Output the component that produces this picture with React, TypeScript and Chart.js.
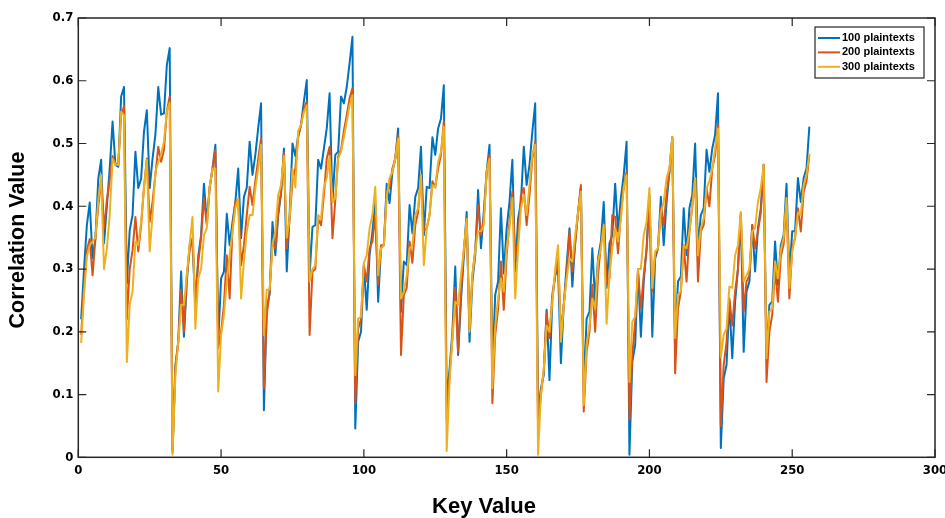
import React, { useEffect, useRef } from 'react';
import { Chart, registerables } from 'chart.js';

Chart.register(...registerables);

// ---- data ----
const BLUE_100 = [
  0.22, 0.30, 0.37, 0.406, 0.317, 0.349, 0.444, 0.474, 0.341, 0.40, 0.46, 0.535, 0.466, 0.463, 0.575, 0.59,
  0.277, 0.362, 0.386, 0.487, 0.429, 0.444, 0.519, 0.553, 0.429, 0.476, 0.514, 0.59, 0.546, 0.548, 0.625, 0.652,
  0.012, 0.147, 0.184, 0.296, 0.192, 0.28, 0.338, 0.34, 0.24, 0.32, 0.354, 0.436, 0.375, 0.43, 0.46, 0.498,
  0.184, 0.285, 0.296, 0.388, 0.338, 0.375, 0.407, 0.46, 0.349, 0.415, 0.43, 0.503, 0.45, 0.482, 0.525, 0.564,
  0.075, 0.24, 0.26, 0.375, 0.322, 0.386, 0.42, 0.492, 0.296, 0.386, 0.50, 0.48, 0.513, 0.53, 0.567, 0.601,
  0.29, 0.367, 0.37, 0.474, 0.46, 0.492, 0.524, 0.58, 0.407, 0.482, 0.487, 0.575, 0.564, 0.59, 0.628, 0.67,
  0.046, 0.184, 0.2, 0.306, 0.235, 0.322, 0.36, 0.407, 0.248, 0.333, 0.338, 0.436, 0.405, 0.455, 0.476, 0.524,
  0.232, 0.312, 0.306, 0.402, 0.357, 0.415, 0.429, 0.495, 0.354, 0.431, 0.429, 0.51, 0.482, 0.524, 0.54, 0.593,
  0.09, 0.14, 0.2, 0.304, 0.163, 0.25, 0.32, 0.391, 0.184, 0.28, 0.322, 0.426, 0.333, 0.391, 0.455, 0.498,
  0.142, 0.259, 0.28, 0.397, 0.293, 0.365, 0.407, 0.474, 0.296, 0.38, 0.407, 0.495, 0.434, 0.466, 0.519, 0.564,
  0.073, 0.11, 0.131, 0.235, 0.123, 0.253, 0.29, 0.30, 0.15, 0.243, 0.306, 0.365, 0.272, 0.344, 0.39, 0.43,
  0.11, 0.221, 0.232, 0.333, 0.248, 0.317, 0.344, 0.407, 0.27, 0.341, 0.354, 0.436, 0.36, 0.413, 0.45, 0.503,
  0.004, 0.152, 0.179, 0.30, 0.192, 0.28, 0.333, 0.418, 0.192, 0.317, 0.333, 0.415, 0.338, 0.407, 0.455, 0.51,
  0.184, 0.28, 0.288, 0.397, 0.322, 0.397, 0.418, 0.50, 0.333, 0.386, 0.397, 0.49, 0.455, 0.492, 0.514, 0.58,
  0.015, 0.126, 0.147, 0.248, 0.158, 0.248, 0.30, 0.386, 0.168, 0.264, 0.28, 0.37, 0.296, 0.365, 0.397, 0.466,
  0.163, 0.243, 0.248, 0.344, 0.275, 0.338, 0.354, 0.436, 0.29, 0.36, 0.36, 0.445, 0.407, 0.445, 0.46, 0.527,
];

const ORANGE_200 = [
  0.195, 0.27, 0.33, 0.348, 0.29, 0.35, 0.40, 0.44, 0.365, 0.41, 0.44, 0.48, 0.468, 0.466, 0.545, 0.559,
  0.22, 0.30, 0.33, 0.383, 0.328, 0.37, 0.43, 0.476, 0.375, 0.407, 0.45, 0.495, 0.471, 0.49, 0.551, 0.575,
  0.008, 0.142, 0.184, 0.267, 0.2, 0.29, 0.33, 0.35, 0.25, 0.31, 0.35, 0.413, 0.37, 0.43, 0.46, 0.49,
  0.174, 0.2, 0.243, 0.322, 0.253, 0.365, 0.407, 0.41, 0.306, 0.338, 0.386, 0.431, 0.402, 0.44, 0.475, 0.508,
  0.11, 0.227, 0.264, 0.344, 0.333, 0.39, 0.423, 0.485, 0.333, 0.38, 0.44, 0.46, 0.51, 0.53, 0.555, 0.567,
  0.195, 0.296, 0.30, 0.38, 0.37, 0.418, 0.476, 0.495, 0.349, 0.41, 0.48, 0.49, 0.52, 0.545, 0.572, 0.588,
  0.086, 0.205, 0.22, 0.306, 0.28, 0.333, 0.344, 0.386, 0.275, 0.338, 0.338, 0.423, 0.43, 0.46, 0.476, 0.513,
  0.163, 0.259, 0.27, 0.344, 0.31, 0.37, 0.391, 0.45, 0.36, 0.365, 0.386, 0.44, 0.43, 0.46, 0.482, 0.535,
  0.06, 0.13, 0.19, 0.27, 0.168, 0.26, 0.33, 0.38, 0.205, 0.29, 0.33, 0.402, 0.354, 0.38, 0.455, 0.482,
  0.086, 0.195, 0.237, 0.312, 0.235, 0.322, 0.375, 0.423, 0.317, 0.344, 0.418, 0.429, 0.37, 0.418, 0.476, 0.503,
  0.05, 0.1, 0.14, 0.23, 0.19, 0.26, 0.29, 0.32, 0.2, 0.243, 0.29, 0.36, 0.296, 0.34, 0.39, 0.434,
  0.073, 0.168, 0.2, 0.275, 0.2, 0.29, 0.34, 0.37, 0.28, 0.285, 0.386, 0.383, 0.325, 0.39, 0.43, 0.455,
  0.06, 0.163, 0.216, 0.296, 0.237, 0.29, 0.33, 0.407, 0.264, 0.322, 0.333, 0.397, 0.37, 0.42, 0.455, 0.51,
  0.134, 0.237, 0.264, 0.338, 0.28, 0.36, 0.40, 0.445, 0.28, 0.36, 0.37, 0.429, 0.40, 0.46, 0.482, 0.53,
  0.05, 0.147, 0.184, 0.253, 0.21, 0.264, 0.30, 0.39, 0.232, 0.28, 0.29, 0.37, 0.333, 0.36, 0.39, 0.466,
  0.12, 0.2, 0.227, 0.30, 0.248, 0.32, 0.34, 0.407, 0.253, 0.333, 0.35, 0.397, 0.36, 0.423, 0.44, 0.482,
];

const YELLOW_300 = [
  0.182, 0.26, 0.32, 0.338, 0.344, 0.35, 0.41, 0.45, 0.30, 0.333, 0.386, 0.476, 0.466, 0.466, 0.551, 0.545,
  0.152, 0.243, 0.264, 0.344, 0.338, 0.375, 0.429, 0.474, 0.328, 0.386, 0.455, 0.471, 0.482, 0.503, 0.551, 0.565,
  0.004, 0.131, 0.184, 0.243, 0.243, 0.29, 0.34, 0.383, 0.205, 0.285, 0.30, 0.354, 0.365, 0.43, 0.46, 0.46,
  0.105, 0.195, 0.227, 0.28, 0.322, 0.36, 0.397, 0.413, 0.253, 0.312, 0.36, 0.386, 0.386, 0.429, 0.46, 0.498,
  0.195, 0.267, 0.267, 0.338, 0.36, 0.418, 0.434, 0.48, 0.35, 0.38, 0.46, 0.43, 0.52, 0.53, 0.55, 0.561,
  0.28, 0.30, 0.306, 0.386, 0.38, 0.43, 0.445, 0.48, 0.407, 0.413, 0.476, 0.487, 0.51, 0.535, 0.561, 0.577,
  0.131, 0.221, 0.224, 0.31, 0.322, 0.365, 0.386, 0.431, 0.29, 0.333, 0.338, 0.415, 0.445, 0.455, 0.476, 0.508,
  0.253, 0.264, 0.29, 0.333, 0.338, 0.386, 0.397, 0.45, 0.306, 0.365, 0.386, 0.434, 0.43, 0.47, 0.487, 0.527,
  0.01, 0.12, 0.19, 0.248, 0.243, 0.29, 0.33, 0.38, 0.2, 0.29, 0.33, 0.36, 0.36, 0.37, 0.455, 0.476,
  0.11, 0.21, 0.253, 0.285, 0.264, 0.333, 0.365, 0.413, 0.253, 0.333, 0.397, 0.418, 0.386, 0.434, 0.482, 0.498,
  0.004, 0.1, 0.14, 0.21, 0.2, 0.248, 0.30, 0.338, 0.184, 0.243, 0.285, 0.317, 0.312, 0.354, 0.39, 0.423,
  0.083, 0.179, 0.21, 0.253, 0.237, 0.312, 0.333, 0.37, 0.213, 0.29, 0.333, 0.365, 0.344, 0.38, 0.43, 0.45,
  0.12, 0.216, 0.224, 0.30, 0.30, 0.354, 0.375, 0.429, 0.27, 0.328, 0.333, 0.39, 0.407, 0.445, 0.46, 0.51,
  0.19, 0.259, 0.264, 0.338, 0.333, 0.36, 0.40, 0.445, 0.322, 0.365, 0.38, 0.429, 0.44, 0.46, 0.492, 0.524,
  0.16, 0.195, 0.205, 0.272, 0.27, 0.322, 0.338, 0.39, 0.28, 0.29, 0.30, 0.36, 0.365, 0.407, 0.429, 0.466,
  0.158, 0.232, 0.237, 0.312, 0.285, 0.33, 0.35, 0.413, 0.27, 0.328, 0.35, 0.39, 0.386, 0.434, 0.45, 0.484,
];

const KEYS = BLUE_100.map((_, i) => i + 1);
const X_TICKS = [0, 50, 100, 150, 200, 250, 300];
const Y_TICKS = [0, 0.1, 0.2, 0.3, 0.4, 0.5, 0.6, 0.7];
const SERIES_LABELS = ['100 plaintexts', '200 plaintexts', '300 plaintexts'];
const SERIES_COLORS = ['#0072BD', '#D95319', '#EDB120'];
const X_TITLE = 'Key Value';
const Y_TITLE = 'Correlation Value';

const TICK_FONT = "'Liberation Sans Narrow', 'DejaVu Sans Condensed', 'Arial Narrow', sans-serif";
const TITLE_FONT = "'Liberation Sans', Arial, sans-serif";
const AXIS_COLOR = '#262626';

const framePlugin = {
  id: 'matlabFrame',
  afterDatasetsDraw(chart: any) {
    const { ctx, chartArea, scales } = chart;
    const { left, right, top, bottom } = chartArea;
    const tl = 8;
    ctx.save();
    ctx.strokeStyle = AXIS_COLOR;
    ctx.lineWidth = 1.5;
    ctx.strokeRect(left, top, right - left, bottom - top);
    ctx.lineWidth = 1.2;
    ctx.beginPath();
    X_TICKS.forEach((v) => {
      const px = scales.x.getPixelForValue(v);
      ctx.moveTo(px, bottom);
      ctx.lineTo(px, bottom - tl);
      ctx.moveTo(px, top);
      ctx.lineTo(px, top + tl);
    });
    Y_TICKS.forEach((v) => {
      const py = scales.y.getPixelForValue(v);
      ctx.moveTo(left, py);
      ctx.lineTo(left + tl, py);
      ctx.moveTo(right, py);
      ctx.lineTo(right - tl, py);
    });
    ctx.stroke();
    ctx.restore();
  },
  afterDraw(chart: any) {
    const { ctx } = chart;
    ctx.save();
    // axis titles
    ctx.fillStyle = '#000';
    ctx.textAlign = 'center';
    ctx.textBaseline = 'middle';
    ctx.font = `bold 22px ${TITLE_FONT}`;
    ctx.fillText(X_TITLE, 484, 507);
    ctx.font = `bold 21.5px ${TITLE_FONT}`;
    ctx.translate(18, 240);
    ctx.rotate(-Math.PI / 2);
    ctx.fillText(Y_TITLE, 0, 0);
    ctx.restore();

    // legend box (top-right, inside plot)
    ctx.save();
    const bx = 815, by = 27, bw = 109, bh = 51;
    ctx.fillStyle = '#fff';
    ctx.fillRect(bx, by, bw, bh);
    ctx.strokeStyle = AXIS_COLOR;
    ctx.lineWidth = 1.2;
    ctx.strokeRect(bx, by, bw, bh);
    ctx.font = `bold 11px ${TITLE_FONT}`;
    ctx.textBaseline = 'middle';
    ctx.textAlign = 'left';
    chart.data.datasets.forEach((ds: any, i: number) => {
      const y = by + 11 + i * 14.4;
      ctx.strokeStyle = ds.borderColor;
      ctx.lineWidth = 2;
      ctx.beginPath();
      ctx.moveTo(bx + 3, y);
      ctx.lineTo(bx + 25, y);
      ctx.stroke();
      ctx.fillStyle = '#000';
      ctx.fillText(ds.label, bx + 27, y);
    });
    ctx.restore();
  },
};

export default function App() {
  const ref = useRef<HTMLCanvasElement | null>(null);

  useEffect(() => {
    if (!ref.current) return;
    const series = [BLUE_100, ORANGE_200, YELLOW_300];
    const chart = new Chart(ref.current, {
      type: 'line',
      data: {
        datasets: series.map((vals, i) => ({
          label: SERIES_LABELS[i],
          data: vals.map((v, j) => ({ x: KEYS[j], y: v })),
          borderColor: SERIES_COLORS[i],
          backgroundColor: SERIES_COLORS[i],
          borderWidth: 2,
          pointRadius: 0,
          tension: 0,
          fill: false,
          borderJoinStyle: 'round',
          order: 2 - i,
        })),
      },
      options: {
        animation: false,
        responsive: false,
        devicePixelRatio: 1,
        layout: { autoPadding: false, padding: { top: 18, right: 10, left: 0, bottom: 0 } },
        plugins: {
          legend: { display: false },
          tooltip: { enabled: false },
          title: { display: false },
        },
        scales: {
          x: {
            type: 'linear',
            min: 0,
            max: 300,
            grid: { display: false, drawTicks: false },
            border: { display: false },
            afterBuildTicks: (s: any) => {
              s.ticks = X_TICKS.map((v) => ({ value: v }));
            },
            afterFit: (s: any) => {
              s.height = 60.7;
              s.paddingLeft = 0;
              s.paddingRight = 0;
            },
            ticks: {
              padding: 6,
              color: '#000',
              maxRotation: 0,
              font: { family: TICK_FONT, size: 13, weight: 'bold' },
              callback: (v: any) => String(v),
            },
          },
          y: {
            type: 'linear',
            min: 0,
            max: 0.7,
            grid: { display: false, drawTicks: false },
            border: { display: false },
            afterBuildTicks: (s: any) => {
              s.ticks = Y_TICKS.map((v) => ({ value: v }));
            },
            afterFit: (s: any) => {
              s.width = 78.3;
              s.paddingTop = 0;
              s.paddingBottom = 0;
            },
            ticks: {
              padding: 5,
              color: '#000',
              font: { family: TICK_FONT, size: 13, weight: 'bold' },
              callback: (v: any) => (v === 0 ? '0' : Number(v).toFixed(1)),
            },
          },
        },
      },
      plugins: [framePlugin],
    } as any);
    return () => chart.destroy();
  }, []);

  return (
    <div style={{ position: 'absolute', left: 0, top: 0, width: 945, height: 518, background: '#fff' }}>
      <canvas ref={ref} width={945} height={518} style={{ width: 945, height: 518 }} />
    </div>
  );
}
